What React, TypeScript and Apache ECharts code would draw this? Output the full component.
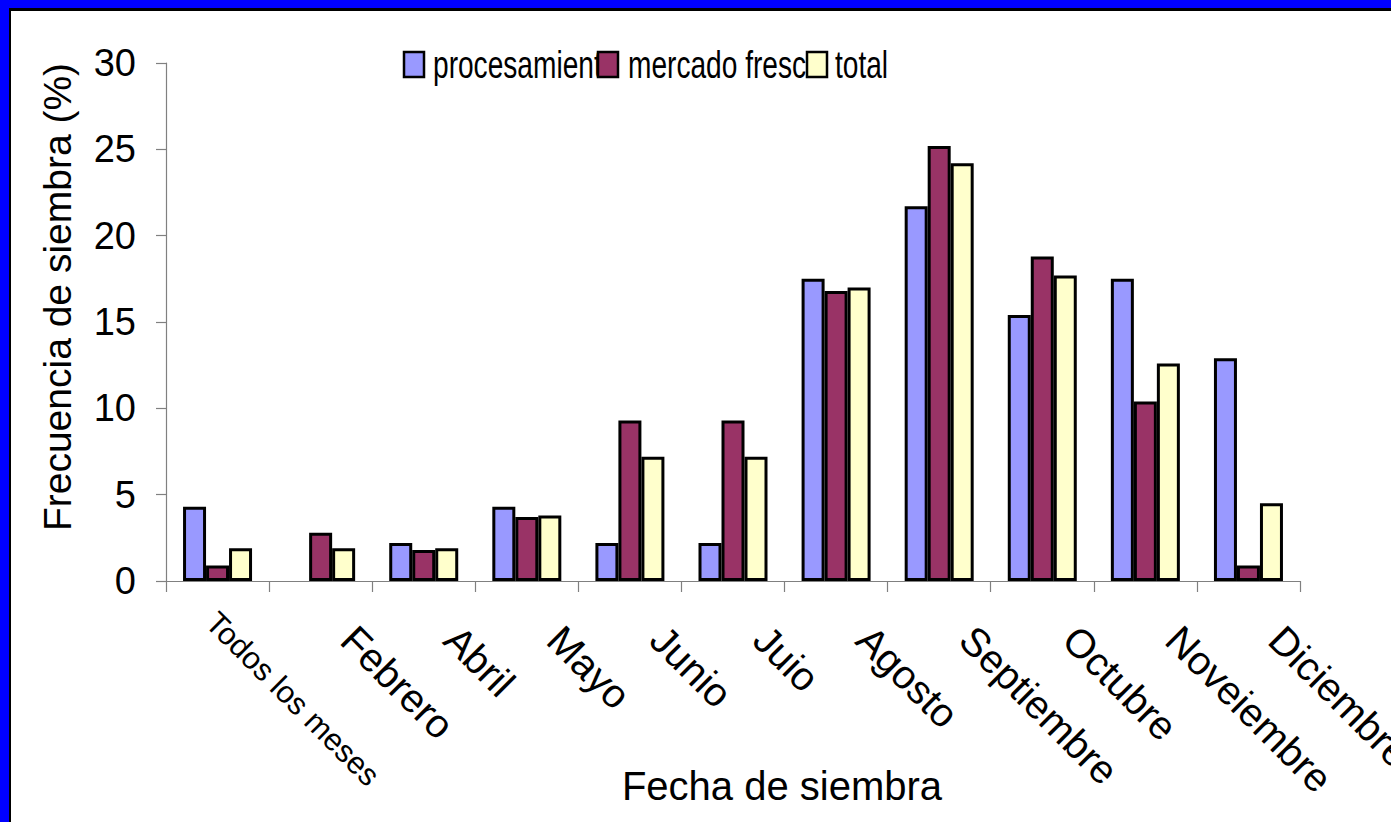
import React, { useEffect, useRef } from 'react';
import * as echarts from 'echarts';

const categories = ['Todos los meses', 'Febrero', 'Abril', 'Mayo', 'Junio', 'Juio', 'Agosto', 'Septiembre', 'Octubre', 'Noveiembre', 'Diciembre'];
const procesamiento = [4.3, 0, 2.2, 4.3, 2.2, 2.2, 17.5, 21.7, 15.4, 17.5, 12.9];
const mercadoFresco = [0.9, 2.8, 1.8, 3.7, 9.3, 9.3, 16.8, 25.2, 18.8, 10.4, 0.9];
const total = [1.9, 1.9, 1.9, 3.8, 7.2, 7.2, 17.0, 24.2, 17.7, 12.6, 4.5];
const seriesNames = ['procesamiento', 'mercado fresco', 'total'];
const colors = ['#9999FF', '#993366', '#FFFFCC'];
const yTicks = { min: 0, max: 30, interval: 5 };

const FF = '"Liberation Sans", Arial, sans-serif';

export default function App() {
  const ref = useRef<HTMLDivElement>(null);
  useEffect(() => {
    document.body.style.margin = '0';
    const chart = echarts.init(ref.current!, null, { renderer: 'svg' });
    const toData = (arr: number[]) =>
      arr.map((v) => (v === 0 ? { value: v, itemStyle: { borderWidth: 0 } } : v));
    const legendY = 52;
    const legendItems = [
      { box: 404, text: 433 },
      { box: 598, text: 628 },
      { box: 807, text: 835 },
    ];
    const legendGraphics: any[] = [];
    legendItems.forEach((it, i) => {
      legendGraphics.push({
        type: 'text',
        x: it.text,
        y: legendY + 13,
        scaleX: 0.74,
        z: 10 + i * 2,
        style: { text: seriesNames[i], font: `38px ${FF}`, fill: '#000', verticalAlign: 'middle', align: 'left' },
      });
      legendGraphics.push({
        type: 'rect',
        z: 11 + i * 2,
        shape: { x: it.box, y: legendY, width: 20, height: 25 },
        style: { fill: colors[i], stroke: '#000', lineWidth: 2.5 },
      });
    });
    chart.setOption({
      animation: false,
      backgroundColor: '#ffffff',
      grid: { left: 166, top: 63, width: 1134, height: 518, containLabel: false, outerBoundsMode: 'none' },
      xAxis: {
        type: 'category',
        data: categories,
        axisLine: { lineStyle: { color: '#808080', width: 1.2 } },
        axisTick: { show: true, length: 11, alignWithLabel: false, lineStyle: { color: '#808080', width: 1.2 } },
        axisLabel: {
          interval: 0,
          rotate: -45,
          margin: 20,
          color: '#000',
          fontFamily: FF,
          hideOverlap: false,
          formatter: (v: string, i: number) => (i === 0 ? `{t|${v}}` : `{m|${v}}`),
          rich: {
            t: { fontSize: 31, fontFamily: FF, color: '#000', padding: [32, 0, 0, 7] },
            m: { fontSize: 40, fontFamily: FF, color: '#000', padding: [6, 0, 0, 42] },
          },
        },
      },
      yAxis: {
        type: 'value',
        min: yTicks.min,
        max: yTicks.max,
        interval: yTicks.interval,
        axisLine: { show: true, lineStyle: { color: '#808080', width: 1.2 } },
        axisTick: { show: true, length: 10, lineStyle: { color: '#808080', width: 1.2 } },
        splitLine: { show: false },
        axisLabel: { fontSize: 38, fontFamily: FF, color: '#000', margin: 30 },
      },
      graphic: [
        { type: 'rect', z: 100, shape: { x: 0, y: 0, width: 1391, height: 8 }, style: { fill: '#0000FF' } },
        { type: 'rect', z: 100, shape: { x: 0, y: 0, width: 9, height: 822 }, style: { fill: '#0000FF' } },
        { type: 'rect', z: 100, shape: { x: 9, y: 8, width: 2, height: 814 }, style: { fill: '#000' } },
        { type: 'rect', z: 100, shape: { x: 9, y: 8, width: 1382, height: 3 }, style: { fill: '#000' } },
        {
          type: 'text',
          x: 57,
          y: 297,
          rotation: Math.PI / 2,
          style: { text: 'Frecuencia de siembra (%)', font: `39px ${FF}`, fill: '#000', align: 'center', verticalAlign: 'middle' },
        },
        {
          type: 'text',
          x: 782,
          y: 786,
          style: { text: 'Fecha de siembra', font: `40px ${FF}`, fill: '#000', align: 'center', verticalAlign: 'middle' },
        },
        ...legendGraphics,
      ],
      series: [procesamiento, mercadoFresco, total].map((arr, i) => ({
        name: seriesNames[i],
        type: 'bar',
        data: toData(arr),
        barWidth: 23,
        barGap: '0%',
        itemStyle: { color: colors[i], borderColor: '#000', borderWidth: 3 },
      })),
    });
    return () => chart.dispose();
  }, []);
  return (
    <div
      ref={ref}
      style={{ position: 'absolute', left: 0, top: 0, width: 1391, height: 822, background: '#fff', overflow: 'hidden' }}
    />
  );
}
